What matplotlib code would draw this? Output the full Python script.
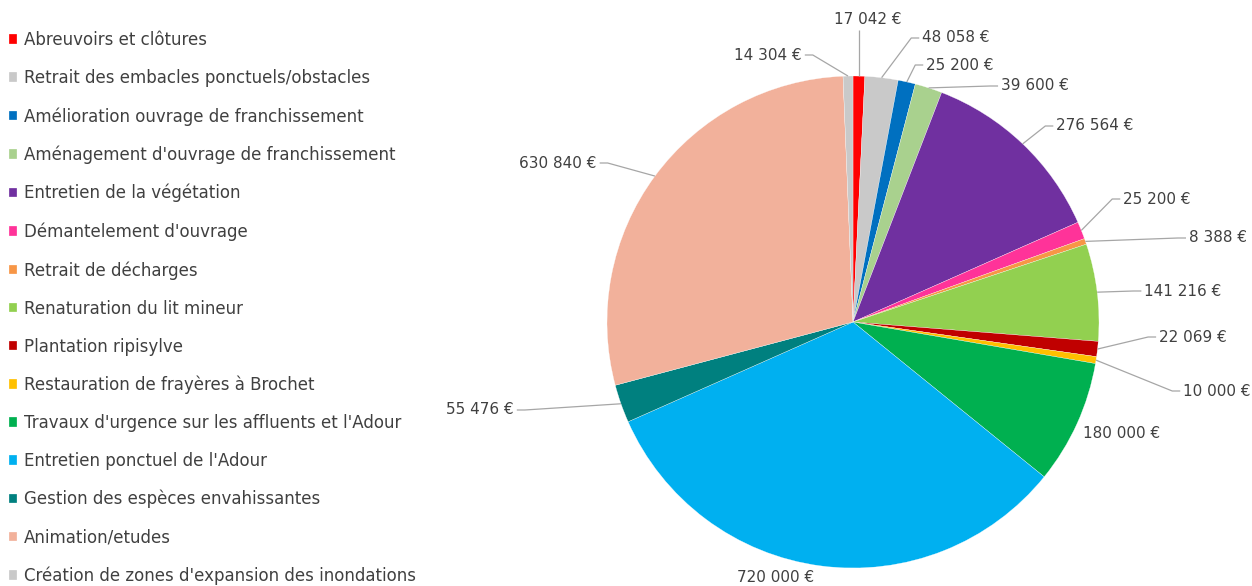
import matplotlib.pyplot as plt
import numpy as np

# Budget per action type (euros)
categories = [
    "Abreuvoirs et clôtures",
    "Retrait des embacles ponctuels/obstacles",
    "Amélioration ouvrage de franchissement",
    "Aménagement d'ouvrage de franchissement",
    "Entretien de la végétation",
    "Démantelement d'ouvrage",
    "Retrait de décharges",
    "Renaturation du lit mineur",
    "Plantation ripisylve",
    "Restauration de frayères à Brochet",
    "Travaux d'urgence sur les affluents et l'Adour",
    "Entretien ponctuel de l'Adour",
    "Gestion des espèces envahissantes",
    "Animation/etudes",
    "Création de zones d'expansion des inondations",
]
amounts = [17042, 48058, 25200, 39600, 276564, 25200, 8388, 141216,
           22069, 10000, 180000, 720000, 55476, 630840, 14304]
colors = ["#FF0000", "#C9C9C9", "#0070C0", "#A9D18E", "#7030A0",
          "#FF3399", "#F79646", "#92D050", "#C00000", "#FFC000",
          "#00B050", "#00B0F0", "#00807F", "#F2B19B", "#C9C9C9"]

# label centres in pixels from the top-left corner, and leader line side
label_pos = [(868, 20), (956, 38), (960, 65), (1035, 86), (1095, 126),
             (1157, 199), (1218, 238), (1183, 291), (1193, 337),
             (1217, 391), (1122, 433), (776, 578), (480, 410),
             (558, 163), (768, 55)]
leader_side = ["bottom", "left", "left", "left", "left", "left", "left",
               "left", "left", "left", None, None, "right", "right", "right"]

W, H = 1252, 586
TXT = "#404040"
plt.rcParams['font.family'] = ['DejaVu Sans']

fig = plt.figure(figsize=(W / 100, H / 100), dpi=100)
ax = fig.add_axes([0, 0, 1, 1])

cx, cy, r = 853, H - 322, 246
wedges, _ = ax.pie(amounts, colors=colors, startangle=90, counterclock=False,
                   center=(cx, cy), radius=r,
                   wedgeprops=dict(edgecolor="white", linewidth=0.2))
ax.set_xlim(0, W)
ax.set_ylim(0, H)
ax.set_aspect("equal")
ax.axis("off")

renderer = fig.canvas.get_renderer()
for w, val, (tx, ty), side in zip(wedges, amounts, label_pos, leader_side):
    ty = H - ty
    txt = ax.text(tx, ty, f"{val:,}".replace(",", " ") + " €", ha="center",
                  va="center", fontsize=11, color=TXT)
    if side is None:
        continue
    mid = np.radians((w.theta1 + w.theta2) / 2)
    ax_, ay_ = cx + r * np.cos(mid), cy + r * np.sin(mid)
    bb = txt.get_window_extent(renderer)
    if side == "bottom":
        xs, ys = [ax_, ax_], [bb.y0 - 2, ay_]
    elif side == "left":
        sx = bb.x0 - 3
        xs, ys = [sx, sx - 8, ax_], [ty, ty, ay_]
    else:
        sx = bb.x1 + 3
        xs, ys = [sx, sx + 8, ax_], [ty, ty, ay_]
    ax.plot(xs, ys, color="#A6A6A6", lw=0.9, solid_capstyle="butt")

fig.legend(wedges, categories, loc="upper left",
           bbox_to_anchor=(9 / W, 1 - 31 / H), frameon=False,
           fontsize=12, handlelength=0.5, handleheight=0.5,
           handletextpad=0.42, labelspacing=1.2, borderpad=0,
           borderaxespad=0, labelcolor=TXT)

fig.savefig("out.png", dpi=100)
